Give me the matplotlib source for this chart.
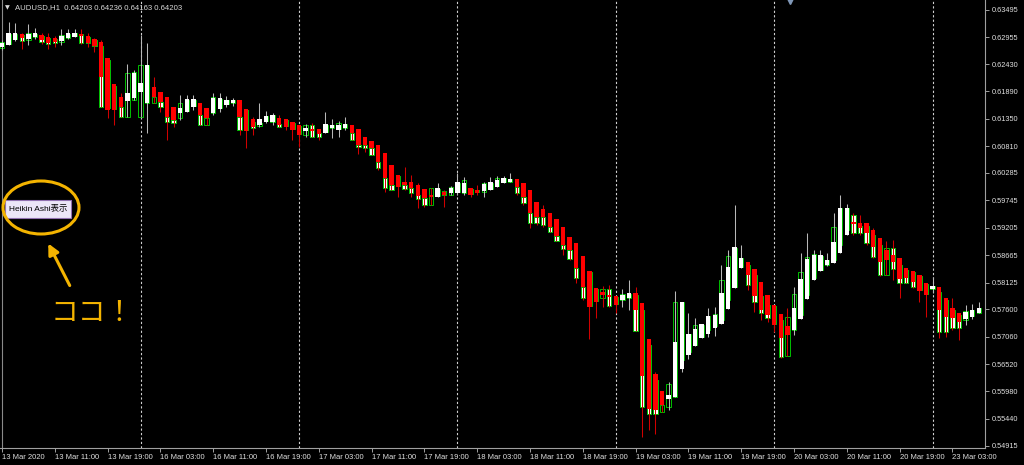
import numpy as np
import matplotlib
matplotlib.use('Agg')
import matplotlib.pyplot as plt
from matplotlib.patches import Rectangle, Ellipse

plt.rcParams['font.family'] = ['Liberation Sans', 'Noto Sans CJK JP', 'DejaVu Sans']

# Heikin Ashi values (open, close, high, low) and regular candle open/close, AUDUSD H1
ha_open = [0.6276, 0.6280, 0.6290, 0.6302, 0.6292, 0.6296, 0.6300, 0.6296, 0.6294, 0.6288,
           0.6294, 0.6296, 0.6302, 0.6298, 0.6292, 0.6286, 0.6255, 0.6204, 0.6178, 0.6170,
           0.6176, 0.6188, 0.6166, 0.6198, 0.6188, 0.6178, 0.6158, 0.6146, 0.6148, 0.6158,
           0.6166, 0.6156, 0.6146, 0.6154, 0.6162, 0.6166, 0.6172, 0.6154, 0.6135, 0.6123,
           0.6129, 0.6129, 0.6137, 0.6135, 0.6129, 0.6123, 0.6111, 0.6115, 0.6115, 0.6107,
           0.6117, 0.6113, 0.6117, 0.6123, 0.6115, 0.6099, 0.6091, 0.6083, 0.6068, 0.6044,
           0.6024, 0.6010, 0.6010, 0.6005, 0.5997, 0.5985, 0.5981, 0.5991, 0.5989, 0.5989,
           0.5989, 0.5999, 0.5995, 0.5993, 0.5995, 0.6001, 0.6008, 0.6010, 0.6016, 0.6008,
           0.5995, 0.5971, 0.5957, 0.5949, 0.5938, 0.5922, 0.5902, 0.5890, 0.5865, 0.5835,
           0.5802, 0.5794, 0.5788, 0.5786, 0.5778, 0.5782, 0.5792, 0.5772, 0.5701, 0.5632,
           0.5599, 0.5583, 0.5587, 0.5642, 0.5670, 0.5687, 0.5703, 0.5711, 0.5723, 0.5731,
           0.5760, 0.5802, 0.5841, 0.5853, 0.5839, 0.5813, 0.5788, 0.5768, 0.5750, 0.5727,
           0.5719, 0.5741, 0.5780, 0.5817, 0.5835, 0.5847, 0.5851, 0.5871, 0.5906, 0.5932,
           0.5930, 0.5930, 0.5916, 0.5900, 0.5877, 0.5867, 0.5861, 0.5841, 0.5835, 0.5827,
           0.5811, 0.5800, 0.5804, 0.5782, 0.5762, 0.5752, 0.5741, 0.5745, 0.5752]
ha_close = [0.6284, 0.6304, 0.6304, 0.6294, 0.6302, 0.6304, 0.6290, 0.6284, 0.6286, 0.6298,
            0.6304, 0.6304, 0.6298, 0.6284, 0.6278, 0.6217, 0.6152, 0.6152, 0.6158, 0.6186,
            0.6225, 0.6205, 0.6241, 0.6178, 0.6168, 0.6139, 0.6133, 0.6156, 0.6174, 0.6174,
            0.6142, 0.6137, 0.6176, 0.6176, 0.6172, 0.6172, 0.6139, 0.6111, 0.6119, 0.6135,
            0.6140, 0.6142, 0.6123, 0.6119, 0.6113, 0.6103, 0.6117, 0.6111, 0.6105, 0.6125,
            0.6123, 0.6123, 0.6125, 0.6107, 0.6083, 0.6083, 0.6077, 0.6050, 0.6018, 0.6005,
            0.6001, 0.6005, 0.5999, 0.5983, 0.5979, 0.5981, 0.5999, 0.5985, 0.5999, 0.6010,
            0.6008, 0.5985, 0.5989, 0.6007, 0.6010, 0.6014, 0.6018, 0.6016, 0.6001, 0.5981,
            0.5949, 0.5942, 0.5942, 0.5922, 0.5904, 0.5886, 0.5877, 0.5841, 0.5804, 0.5764,
            0.5774, 0.5788, 0.5784, 0.5768, 0.5788, 0.5792, 0.5758, 0.5628, 0.5563, 0.5561,
            0.5571, 0.5591, 0.5695, 0.5774, 0.5711, 0.5721, 0.5731, 0.5746, 0.5748, 0.5792,
            0.5843, 0.5882, 0.5861, 0.5827, 0.5786, 0.5758, 0.5748, 0.5729, 0.5703, 0.5709,
            0.5762, 0.5819, 0.5859, 0.5867, 0.5867, 0.5857, 0.5892, 0.5959, 0.5959, 0.5928,
            0.5920, 0.5910, 0.5882, 0.5853, 0.5857, 0.5853, 0.5819, 0.5821, 0.5813, 0.5796,
            0.5788, 0.5806, 0.5758, 0.5745, 0.5743, 0.5735, 0.5754, 0.5758, 0.5762]
ha_high = [0.6290, 0.6326, 0.6324, 0.6304, 0.6322, 0.6314, 0.6304, 0.6304, 0.6298, 0.6312,
           0.6312, 0.6312, 0.6312, 0.6304, 0.6294, 0.6290, 0.6255, 0.6204, 0.6186, 0.6243,
           0.6231, 0.6300, 0.6284, 0.6217, 0.6188, 0.6178, 0.6158, 0.6182, 0.6182, 0.6182,
           0.6166, 0.6156, 0.6186, 0.6186, 0.6180, 0.6176, 0.6172, 0.6154, 0.6139, 0.6166,
           0.6150, 0.6146, 0.6142, 0.6135, 0.6129, 0.6123, 0.6125, 0.6127, 0.6115, 0.6148,
           0.6135, 0.6131, 0.6139, 0.6123, 0.6115, 0.6099, 0.6091, 0.6083, 0.6068, 0.6044,
           0.6024, 0.6040, 0.6024, 0.6008, 0.5997, 0.5999, 0.6008, 0.5995, 0.6003, 0.6028,
           0.6020, 0.5999, 0.6005, 0.6010, 0.6020, 0.6022, 0.6022, 0.6028, 0.6016, 0.6008,
           0.5995, 0.5971, 0.5965, 0.5949, 0.5938, 0.5922, 0.5902, 0.5890, 0.5865, 0.5835,
           0.5802, 0.5806, 0.5808, 0.5786, 0.5800, 0.5817, 0.5804, 0.5772, 0.5701, 0.5636,
           0.5599, 0.5616, 0.5796, 0.5774, 0.5752, 0.5743, 0.5731, 0.5762, 0.5764, 0.5847,
           0.5877, 0.5965, 0.5886, 0.5853, 0.5839, 0.5813, 0.5788, 0.5768, 0.5750, 0.5762,
           0.5804, 0.5871, 0.5910, 0.5877, 0.5877, 0.5871, 0.5949, 0.5985, 0.5967, 0.5949,
           0.5945, 0.5930, 0.5920, 0.5900, 0.5894, 0.5896, 0.5861, 0.5841, 0.5835, 0.5827,
           0.5811, 0.5823, 0.5804, 0.5782, 0.5782, 0.5752, 0.5768, 0.5770, 0.5774]
ha_low = [0.6271, 0.6280, 0.6288, 0.6272, 0.6280, 0.6292, 0.6282, 0.6272, 0.6276, 0.6280,
          0.6292, 0.6296, 0.6282, 0.6276, 0.6267, 0.6158, 0.6137, 0.6123, 0.6139, 0.6139,
          0.6172, 0.6139, 0.6107, 0.6166, 0.6148, 0.6093, 0.6119, 0.6133, 0.6148, 0.6152,
          0.6123, 0.6123, 0.6142, 0.6148, 0.6158, 0.6160, 0.6103, 0.6077, 0.6103, 0.6119,
          0.6127, 0.6123, 0.6119, 0.6113, 0.6093, 0.6079, 0.6099, 0.6099, 0.6093, 0.6107,
          0.6097, 0.6099, 0.6113, 0.6093, 0.6066, 0.6070, 0.6064, 0.6034, 0.5991, 0.5995,
          0.5981, 0.5995, 0.5981, 0.5959, 0.5961, 0.5965, 0.5981, 0.5961, 0.5985, 0.5985,
          0.5985, 0.5981, 0.5985, 0.5981, 0.5995, 0.6001, 0.6008, 0.6010, 0.5985, 0.5965,
          0.5920, 0.5926, 0.5922, 0.5912, 0.5894, 0.5867, 0.5857, 0.5811, 0.5778, 0.5701,
          0.5743, 0.5764, 0.5764, 0.5752, 0.5764, 0.5758, 0.5717, 0.5508, 0.5522, 0.5514,
          0.5557, 0.5561, 0.5587, 0.5636, 0.5662, 0.5687, 0.5703, 0.5705, 0.5707, 0.5731,
          0.5760, 0.5802, 0.5841, 0.5798, 0.5754, 0.5739, 0.5735, 0.5715, 0.5664, 0.5668,
          0.5709, 0.5741, 0.5780, 0.5817, 0.5835, 0.5845, 0.5851, 0.5871, 0.5906, 0.5906,
          0.5906, 0.5886, 0.5861, 0.5825, 0.5827, 0.5817, 0.5782, 0.5811, 0.5802, 0.5774,
          0.5745, 0.5792, 0.5703, 0.5705, 0.5719, 0.5699, 0.5729, 0.5741, 0.5752]
bar_open = [0.6274, 0.6282, 0.6292, 0.6300, 0.6290, 0.6296, 0.6298, 0.6294, 0.6292, 0.6286,
            0.6294, 0.6298, 0.6302, 0.6296, 0.6290, 0.6278, 0.6251, 0.6200, 0.6158, 0.6139,
            0.6172, 0.6139, 0.6166, 0.6166, 0.6168, 0.6139, 0.6133, 0.6137, 0.6150, 0.6160,
            0.6142, 0.6123, 0.6146, 0.6156, 0.6164, 0.6166, 0.6139, 0.6152, 0.6129, 0.6121,
            0.6131, 0.6129, 0.6125, 0.6133, 0.6127, 0.6121, 0.6103, 0.6123, 0.6107, 0.6109,
            0.6117, 0.6115, 0.6117, 0.6107, 0.6083, 0.6083, 0.6077, 0.6050, 0.6018, 0.6005,
            0.6022, 0.6005, 0.5999, 0.5985, 0.5979, 0.5965, 0.5983, 0.5993, 0.5985, 0.5991,
            0.5989, 0.5997, 0.5995, 0.5991, 0.5997, 0.6003, 0.6010, 0.6010, 0.6001, 0.5981,
            0.5949, 0.5942, 0.5942, 0.5922, 0.5904, 0.5886, 0.5877, 0.5841, 0.5804, 0.5833,
            0.5800, 0.5782, 0.5800, 0.5784, 0.5778, 0.5782, 0.5788, 0.5758, 0.5689, 0.5620,
            0.5557, 0.5567, 0.5587, 0.5660, 0.5676, 0.5689, 0.5705, 0.5719, 0.5727, 0.5739,
            0.5778, 0.5804, 0.5843, 0.5847, 0.5827, 0.5786, 0.5768, 0.5766, 0.5739, 0.5668,
            0.5719, 0.5748, 0.5788, 0.5821, 0.5837, 0.5847, 0.5857, 0.5886, 0.5916, 0.5945,
            0.5924, 0.5924, 0.5906, 0.5886, 0.5827, 0.5880, 0.5847, 0.5837, 0.5833, 0.5825,
            0.5810, 0.5800, 0.5794, 0.5778, 0.5758, 0.5748, 0.5739, 0.5746, 0.5752]
bar_close = [0.6286, 0.6302, 0.6302, 0.6288, 0.6304, 0.6302, 0.6286, 0.6282, 0.6284, 0.6300,
             0.6302, 0.6304, 0.6284, 0.6284, 0.6278, 0.6158, 0.6156, 0.6154, 0.6139, 0.6225,
             0.6227, 0.6241, 0.6241, 0.6178, 0.6158, 0.6129, 0.6127, 0.6166, 0.6172, 0.6172,
             0.6123, 0.6137, 0.6178, 0.6174, 0.6172, 0.6172, 0.6113, 0.6113, 0.6117, 0.6127,
             0.6140, 0.6142, 0.6119, 0.6121, 0.6115, 0.6105, 0.6123, 0.6099, 0.6099, 0.6123,
             0.6123, 0.6127, 0.6125, 0.6093, 0.6079, 0.6077, 0.6064, 0.6038, 0.5999, 0.5995,
             0.6003, 0.5997, 0.5989, 0.5977, 0.5965, 0.5999, 0.5997, 0.5985, 0.6001, 0.6008,
             0.6014, 0.5987, 0.5991, 0.6008, 0.6008, 0.6018, 0.6018, 0.6016, 0.5989, 0.5969,
             0.5930, 0.5930, 0.5926, 0.5912, 0.5894, 0.5878, 0.5859, 0.5821, 0.5782, 0.5766,
             0.5776, 0.5800, 0.5766, 0.5770, 0.5790, 0.5790, 0.5717, 0.5567, 0.5553, 0.5553,
             0.5571, 0.5613, 0.5774, 0.5774, 0.5711, 0.5729, 0.5729, 0.5746, 0.5750, 0.5817,
             0.5865, 0.5880, 0.5861, 0.5808, 0.5774, 0.5752, 0.5743, 0.5731, 0.5666, 0.5745,
             0.5790, 0.5833, 0.5863, 0.5869, 0.5865, 0.5857, 0.5922, 0.5959, 0.5959, 0.5910,
             0.5910, 0.5890, 0.5863, 0.5827, 0.5880, 0.5839, 0.5811, 0.5811, 0.5804, 0.5798,
             0.5790, 0.5806, 0.5715, 0.5715, 0.5723, 0.5723, 0.5756, 0.5758, 0.5762]

date_labels = ['13 Mar 2020', '13 Mar 11:00', '13 Mar 19:00', '16 Mar 03:00', '16 Mar 11:00',
               '16 Mar 19:00', '17 Mar 03:00', '17 Mar 11:00', '17 Mar 19:00', '18 Mar 03:00',
               '18 Mar 11:00', '18 Mar 19:00', '19 Mar 03:00', '19 Mar 11:00', '19 Mar 19:00',
               '20 Mar 03:00', '20 Mar 11:00', '20 Mar 19:00', '23 Mar 03:00']
day_starts = [21, 45, 69, 93, 117, 141]
price_ticks = [0.63495, 0.62955, 0.62430, 0.61890, 0.61350, 0.60810, 0.60285, 0.59745, 0.59205,
               0.58665, 0.58125, 0.57600, 0.57060, 0.56520, 0.55980, 0.55440, 0.54915]

fig = plt.figure(figsize=(10.24, 4.65), dpi=100, facecolor='black')
ax = fig.add_axes([0, 17 / 465, 985 / 1024, 448 / 465], facecolor='black')

x = np.arange(len(ha_open))
ho, hc = np.array(ha_open), np.array(ha_close)
hh, hl = np.array(ha_high), np.array(ha_low)
o, c = np.array(bar_open), np.array(bar_close)

# period separators
for d in day_starts:
    ax.axvline(d, color='#d0d0d0', lw=0.8, ls=(0, (2, 2)), zorder=1)
ax.axvline(0.05, color='#8a8a8a', lw=0.8, zorder=1)

# regular candles underneath
bull = c >= o
ax.bar(x, np.maximum(np.abs(c - o), 1e-5), bottom=np.minimum(o, c), width=0.66,
       color=['black' if b else 'white' for b in bull], edgecolor='#00c000',
       linewidth=0.7, zorder=2)

# heikin ashi on top
up = hc >= ho
ax.vlines(x, hl, hh, colors=['#b8b8b8' if u else '#d00000' for u in up],
          linewidth=0.75, zorder=3)
ax.bar(x, np.maximum(np.abs(hc - ho), 3e-5), bottom=np.minimum(ho, hc), width=0.66,
       color=['white' if u else '#ff0000' for u in up], linewidth=0, zorder=4)

ax.set_xlim(-0.3, 148.95)
ax.set_ylim(0.54866, 0.63692)

for side in ['top', 'left']:
    ax.spines[side].set_visible(False)
for side in ['right', 'bottom']:
    ax.spines[side].set_color('#a0a0a0')
    ax.spines[side].set_linewidth(0.8)

ax.yaxis.tick_right()
ax.set_yticks(price_ticks)
ax.set_yticklabels(['%.5f' % p for p in price_ticks])
ax.tick_params(axis='y', colors='#a0a0a0', labelcolor='#e0e0e0', labelsize=5.3,
               length=3, width=0.7, pad=1.5)
ax.set_xticks(range(0, 145, 8))
ax.set_xticklabels(date_labels)
ax.tick_params(axis='x', colors='#a0a0a0', labelcolor='#e0e0e0', labelsize=5.5,
               length=3, width=0.7, pad=1.2)
for lbl in ax.get_xticklabels():
    lbl.set_horizontalalignment('left')

# chart shift marker
ax.plot([119.4], [0.63692], marker='v', ms=6, color='#8098b8', clip_on=False, zorder=6)

# header
fig.text(15 / 1024, 1 - 7.5 / 465, 'AUDUSD,H1  0.64203 0.64236 0.64163 0.64203',
         color='#d8d8d8', fontsize=5.6, va='center')
fig.text(5 / 1024, 1 - 7.5 / 465, '▼', color='#d8d8d8', fontsize=4.5, va='center',
         family='DejaVu Sans')

# button + annotation
orange = '#f4b400'
fig.patches.append(Rectangle((5 / 1024, 1 - 218 / 465), 66 / 1024, 18 / 465,
                             transform=fig.transFigure, facecolor='#ece6f8',
                             edgecolor='#9070b0', lw=0.8, zorder=5))
fig.text(38 / 1024, 1 - 208.5 / 465, 'Heikin Ashi表示', color='black', fontsize=6,
         ha='center', va='center', zorder=6)
fig.patches.append(Ellipse((41 / 1024, 1 - 207.5 / 465), 76 / 1024, 53 / 465,
                           transform=fig.transFigure, facecolor='none',
                           edgecolor=orange, lw=2.2, zorder=7))
ax.annotate('', xy=(47, 465 - 241), xycoords='figure pixels',
            xytext=(71, 465 - 288), textcoords='figure pixels',
            arrowprops=dict(arrowstyle='-|>', color=orange, lw=2.2, mutation_scale=16))
fig.text(51 / 1024, 1 - 313 / 465, 'ココ！', color=orange, fontsize=20,
         va='center', family=['Noto Sans CJK JP'])

fig.savefig('out.png', dpi=100, facecolor='black')
